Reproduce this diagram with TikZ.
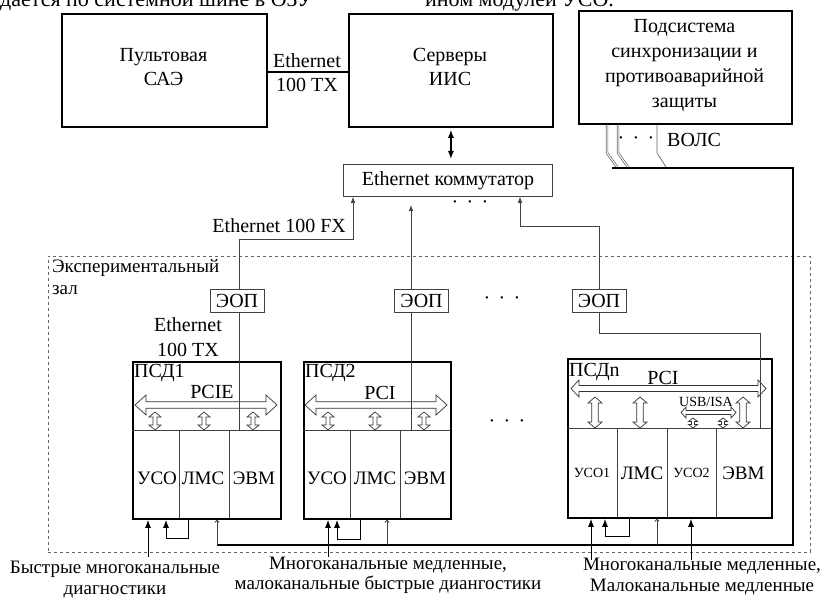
\documentclass[tikz,border=0pt]{standalone}
\usepackage{fontspec}
\setmainfont{Liberation Serif}
\usetikzlibrary{arrows.meta}
\newcommand\hbus[6]{\draw[bus] (#1,#3) -- ({#1+#6},{#3-#5}) -- ({#1+#6},{#3-#4}) -- ({#2-#6},{#3-#4}) -- ({#2-#6},{#3-#5}) -- (#2,#3) -- ({#2-#6},{#3+#5}) -- ({#2-#6},{#3+#4}) -- ({#1+#6},{#3+#4}) -- ({#1+#6},{#3+#5}) -- cycle;}
\newcommand\vbus[6]{\draw[bus] (#1,#2) -- ({#1-#5},{#2+#6}) -- ({#1-#4},{#2+#6}) -- ({#1-#4},{#3-#6}) -- ({#1-#5},{#3-#6}) -- (#1,#3) -- ({#1+#5},{#3-#6}) -- ({#1+#4},{#3-#6}) -- ({#1+#4},{#2+#6}) -- ({#1+#5},{#2+#6}) -- cycle;}
\begin{document}
\begin{tikzpicture}[x=1pt,y=-1pt,
  box/.style={draw, line width=1.8pt, inner sep=0, anchor=north west},
  conn/.style={draw=black!75, line width=0.8pt},
  cell/.style={draw=black!75, line width=0.9pt},
  smallbox/.style={draw=black!75, line width=0.8pt, fill=white, inner sep=0, minimum width=54, minimum height=23},
  txt/.style={font=\fontsize{20}{24}\selectfont, align=center, inner sep=0},
  ctxt/.style={font=\fontsize{19}{22}\selectfont, inner sep=0},
  stxt/.style={font=\fontsize{14}{16}\selectfont, inner sep=0},
  bus/.style={draw=black!80, line width=0.7pt, fill=white},
  wire/.style={draw, line width=2.2pt},
  fiber/.style={draw=black!60, line width=0.7pt},
  fa/.style={-{Latex[length=8pt,width=6pt]}},
  sa/.style={-{Latex[length=6pt,width=4.5pt]}},
  oa/.style={-{To[length=3pt,width=5pt]}},
]
\useasboundingbox (0,0) rectangle (820,599);

% cut text at top
\node[anchor=base west, inner sep=0, font=\fontsize{22}{24}\selectfont] (cut1) at (0,7) {дается по системной шине в ОЗУ};
\node[anchor=base west, inner sep=0, font=\fontsize{22}{24}\selectfont] (cut2) at (425,7) {ином модулей УСО.};

% top boxes
\node[box, minimum width=205, minimum height=113] (pult) at (61,13) {};
\node[txt] (pultt) at (163.5,67) {Пультовая\\САЭ};
\node[box, minimum width=204, minimum height=113] (serv) at (348,13) {};
\node[txt] (servt) at (450,67) {Серверы\\ИИС};
\node[box, minimum width=213, minimum height=113] (sub) at (578,10) {};
\node[txt, font=\fontsize{20}{25}\selectfont] (subt) at (684.5,66) {Подсистема\\синхронизации и\\противоаварийной\\защиты};

\coordinate (ethy) at (300,72);
\draw[line width=1.8pt] (pult.east |- ethy) -- (serv.west |- ethy);
\node[txt] (eth1) at (307,61) {Ethernet};
\node[txt] (eth2) at (307,85) {100 TX};

% switch
\node[draw=black!75, line width=0.8pt, minimum width=209, minimum height=32, anchor=north west, inner sep=0, font=\fontsize{20}{24}\selectfont] (sw) at (343,164) {Ethernet коммутатор};
\draw[line width=1.3pt, {Latex[length=8pt,width=6pt]}-{Latex[length=8pt,width=6pt]}, shorten <=2pt, shorten >=5pt] (serv.south) -- (serv.south |- sw.north);
\node[txt] (dots1) at (470,205) {·\, ·\, ·};

% hall
\node[draw=black!60, dashed, line width=0.7pt, minimum width=762, minimum height=296, anchor=north west, inner sep=0] (hall) at (48,256) {};
\node[txt, anchor=north west, align=left, font=\fontsize{19}{22}\selectfont] (hallt) at (52,259) {Экспериментальный\\зал};

% EOP boxes
\node[smallbox, font=\fontsize{20}{24}\selectfont] (eop1) at (237,300.5) {ЭОП};
\node[smallbox, font=\fontsize{20}{24}\selectfont] (eop2) at (421.5,300.5) {ЭОП};
\node[smallbox, font=\fontsize{20}{24}\selectfont] (eop3) at (599,300.5) {ЭОП};
\node[txt] (dots2) at (502,301) {·\, ·\, ·};
\node[txt] (dots3) at (507,424) {·\, ·\, ·};

\node[txt] (eth3) at (188,325) {Ethernet};
\node[txt] (eth4) at (188,350) {100 TX};
\node[txt, anchor=east] (fx) at (346,226) {Ethernet 100 FX};

% PSD1
\node[box, minimum width=148, minimum height=157] (psd1) at (132,361) {};
\draw[cell] (132,430) -- (280,430);
\draw[cell] (179,430) -- (179,518) (229,430) -- (229,518);
\node[txt, anchor=west] (psd1t) at (134,373) {ПСД1};
\node[txt] (pcie) at (212,392) {PCIE};
\hbus{135}{277}{405}{3.3}{10}{11}
\vbus{155}{412}{430}{2}{6}{5}
\vbus{204}{412}{430}{2}{6}{5}
\vbus{253}{412}{430}{2}{6}{5}
\node[ctxt] (c11) at (157,478) {УСО};
\node[ctxt] (c12) at (203,478) {ЛМС};
\node[ctxt] (c13) at (254,478) {ЭВМ};

% PSD2
\node[box, minimum width=147, minimum height=157] (psd2) at (303,361) {};
\draw[cell] (303,430) -- (450,430);
\draw[cell] (350,430) -- (350,518) (400,430) -- (400,518);
\node[txt, anchor=west] (psd2t) at (305,373) {ПСД2};
\node[txt] (pci2) at (380,393) {PCI};
\hbus{305}{447}{405}{3.3}{10}{11}
\vbus{328}{412}{430}{2}{6}{5}
\vbus{375}{412}{430}{2}{6}{5}
\vbus{424}{412}{430}{2}{6}{5}
\node[ctxt] (c21) at (327,478) {УСО};
\node[ctxt] (c22) at (375,478) {ЛМС};
\node[ctxt] (c23) at (425,478) {ЭВМ};

% PSDn
\node[box, minimum width=204, minimum height=159] (psdn) at (567,358) {};
\draw[cell] (567,428) -- (771,428);
\draw[cell] (617,428) -- (617,517) (667,428) -- (667,517) (716,428) -- (716,517);
\node[txt, anchor=west] (psdnt) at (569,372) {ПСДn};
\node[txt] (pcin) at (663,378) {PCI};
\hbus{571}{766}{388.5}{3}{8.5}{8}
\vbus{595}{397}{428}{3.3}{7}{6}
\vbus{640}{397}{428}{3.3}{7}{6}
\vbus{743}{397}{428}{3.3}{7}{6}
\node[stxt] (usb) at (706,402) {USB/ISA};
\hbus{681}{736}{412.5}{2}{5.5}{5}
\vbus{693}{418}{428}{1.5}{4.5}{3.5}
\vbus{723}{418}{428}{1.5}{4.5}{3.5}
\node[stxt] (cn1) at (592,473) {УСО1};
\node[ctxt] (cn2) at (642,473) {ЛМС};
\node[stxt] (cn3) at (691.5,473) {УСО2};
\node[ctxt] (cn4) at (743.5,473) {ЭВМ};

% connections to switch
\coordinate (b1) at (353,239);
\coordinate (t2) at (411,205);
\coordinate (b3) at (520,226);
\coordinate (l1) at (239,430);
\coordinate (l2) at (411,430);
\coordinate (l3) at (760,428);
\coordinate (k3) at (760,333);
\draw[conn, sa] (eop1.north -| l1) |- (b1) -- (sw.south -| b1);
\draw[conn] (eop1.south -| l1) -- (l1);
\draw[conn, sa] (eop2.north -| t2) -- (t2);
\draw[conn] (eop2.south -| l2) -- (l2);
\draw[conn, sa] (eop3.north) |- (b3) -- (sw.south -| b3);
\draw[conn] (eop3.south) |- (k3) -- (l3);

% fibers from subsystem
\coordinate (f1) at (607,153);
\coordinate (f2) at (618,153);
\coordinate (f3) at (657,153);
\draw[fiber, double, double distance=1pt] (sub.south -| f1) -- (f1) -- ++(10,14);
\draw[fiber, double, double distance=1pt] (sub.south -| f2) -- (f2) -- ++(10,14);
\draw[fiber] (sub.south -| f3) -- (f3) -- ++(9,14);
\node[txt] (dots4) at (636,141) {·\, ·\, ·};
\node[txt, anchor=west] (vols) at (667,140) {ВОЛС};

% thick wire
\coordinate (w1) at (217,545);
\coordinate (wc) at (793,168);
\coordinate (w0) at (612,168);
\draw[wire] (w1) -| (wc) -- (w0);
\draw[conn, oa] (w1) -- (w1 |- psd1.south);
\coordinate (w2) at (387,545);
\draw[conn, oa] (w2) -- (w2 |- psd2.south);
\coordinate (w3) at (657,545);
\draw[conn, oa] (w3) -- (w3 |- psdn.south);

% inputs from below
\coordinate (i1) at (148,557);
\coordinate (i2) at (328,557);
\coordinate (i3) at (591,560);
\coordinate (i4) at (691,560);
\draw[line width=1pt, fa] (i1) -- (i1 |- psd1.south);
\draw[line width=1pt, fa] (i2) -- (i2 |- psd2.south);
\draw[line width=1pt, fa] (i3) -- (i3 |- psdn.south);
\draw[line width=1pt, fa] (i4) -- (i4 |- psdn.south);
% loops
\coordinate (p1) at (188,538);
\coordinate (q1) at (166,538);
\draw[line width=1pt, fa] (p1 |- psd1.south) -- (p1) -- (q1) -- (q1 |- psd1.south);
\coordinate (p2) at (360,539);
\coordinate (q2) at (337,539);
\draw[line width=1pt, fa] (p2 |- psd2.south) -- (p2) -- (q2) -- (q2 |- psd2.south);
\coordinate (p3) at (629,536);
\coordinate (q3) at (605,536);
\draw[line width=1pt, fa] (p3 |- psdn.south) -- (p3) -- (q3) -- (q3 |- psdn.south);

% bottom labels
\node[txt, font=\fontsize{19}{21}\selectfont] (lab1) at (115,580) {Быстрые многоканальные\\диагностики};
\node[txt, font=\fontsize{19}{20}\selectfont] (lab2) at (388,575) {Многоканальные медленные,\\малоканальные быстрые диангостики};
\node[txt, font=\fontsize{19}{21}\selectfont] (lab3) at (702,577) {Многоканальные медленные,\\Малоканальные медленные};
\end{tikzpicture}
\end{document}
